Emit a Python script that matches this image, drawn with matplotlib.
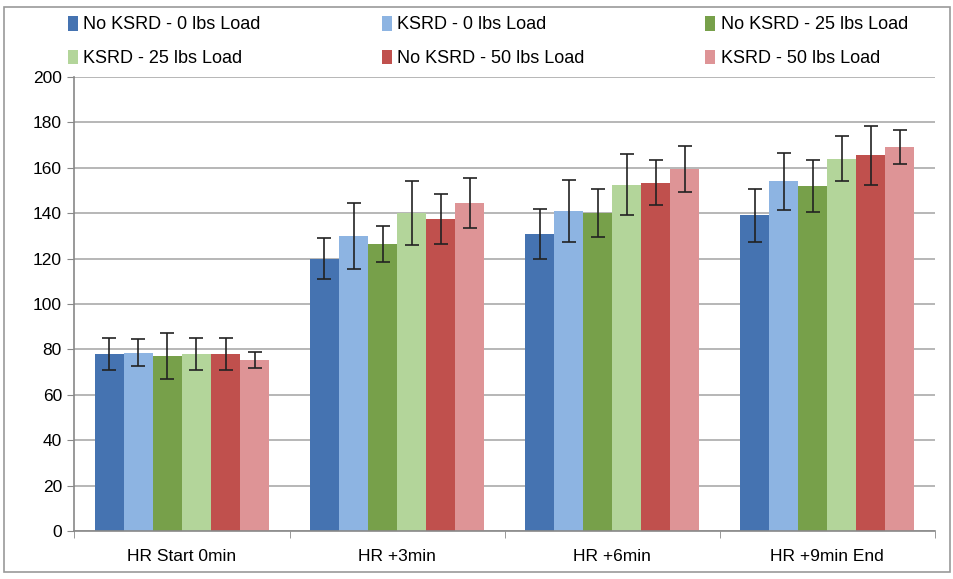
import matplotlib
matplotlib.use('Agg')
import matplotlib.pyplot as plt
import numpy as np
from matplotlib.patches import Rectangle

categories = ['HR Start 0min', 'HR +3min', 'HR +6min', 'HR +9min End']
series_names = ['No KSRD - 0 lbs Load', 'KSRD - 0 lbs Load', 'No KSRD - 25 lbs Load',
                'KSRD - 25 lbs Load', 'No KSRD - 50 lbs Load', 'KSRD - 50 lbs Load']
colors = ['#4573B1', '#8DB4E2', '#77A04A', '#B3D59A', '#C0504D', '#DE9496']

no_ksrd_0 = [78, 120, 131, 139]
ksrd_0 = [78.5, 130, 141, 154]
no_ksrd_25 = [77, 126.5, 140, 152]
ksrd_25 = [78, 140, 152.5, 164]
no_ksrd_50 = [78, 137.5, 153.5, 165.5]
ksrd_50 = [75.5, 144.5, 159.5, 169]

err_no_ksrd_0 = [7, 9, 11, 11.5]
err_ksrd_0 = [6, 14.5, 13.5, 12.5]
err_no_ksrd_25 = [10, 8, 10.5, 11.5]
err_ksrd_25 = [7, 14, 13.5, 10]
err_no_ksrd_50 = [7, 11, 10, 13]
err_ksrd_50 = [3.5, 11, 10, 7.5]

values = [no_ksrd_0, ksrd_0, no_ksrd_25, ksrd_25, no_ksrd_50, ksrd_50]
errors = [err_no_ksrd_0, err_ksrd_0, err_no_ksrd_25, err_ksrd_25, err_no_ksrd_50, err_ksrd_50]

plt.rcParams['font.family'] = ['Liberation Sans', 'DejaVu Sans']

fig = plt.figure(figsize=(9.54, 5.79), dpi=100)
ax = fig.add_axes([0.078, 0.083, 0.902, 0.784])

x = np.arange(len(categories))
w = 0.135
bars = []
for i, (vals, errs) in enumerate(zip(values, errors)):
    pos = x + (i - 2.5) * w
    b = ax.bar(pos, vals, width=w, color=colors[i], label=series_names[i], zorder=2)
    bars.append(b)
    ax.errorbar(pos, vals, yerr=errs, fmt='none', ecolor='#222222',
                elinewidth=1.2, capsize=5, capthick=1.2, zorder=3)

ax.set_xlim(-0.5, len(categories) - 0.5)
ax.set_ylim(0, 200)
ax.set_yticks(range(0, 201, 20))
ax.set_xticks(x)
ax.set_xticklabels(categories, fontsize=12.5)
ax.set_xticks(np.arange(-0.5, len(categories)), minor=True)
ax.tick_params(axis='x', which='major', length=0, pad=13)
ax.tick_params(axis='x', which='minor', length=5, color='#888888')
ax.tick_params(axis='y', length=5, color='#888888', labelsize=12.5, pad=4)
ax.yaxis.grid(True, color='#AAAAAA', linewidth=1.2, zorder=0)
ax.set_axisbelow(True)
for s in ['top', 'right']:
    ax.spines[s].set_visible(False)
for s in ['left', 'bottom']:
    ax.spines[s].set_color('#888888')
    ax.spines[s].set_linewidth(1.2)

# three one-column legends so the columns sit where the original has them
col_x = [0.058, 0.387, 0.726]
for c in range(3):
    idx = [c, c + 3]
    fig.legend([bars[k] for k in idx], [series_names[k] for k in idx],
               loc='upper left', bbox_to_anchor=(col_x[c], 0.995), frameon=False,
               fontsize=13, handlelength=0.55, handleheight=0.9, handletextpad=0.3,
               labelspacing=0.9, borderaxespad=0.3)

fig.patches.append(Rectangle((0.004, 0.012), 0.992, 0.976, transform=fig.transFigure,
                             fill=False, edgecolor='#999999', linewidth=1.2))

fig.savefig('out.png', dpi=100)
